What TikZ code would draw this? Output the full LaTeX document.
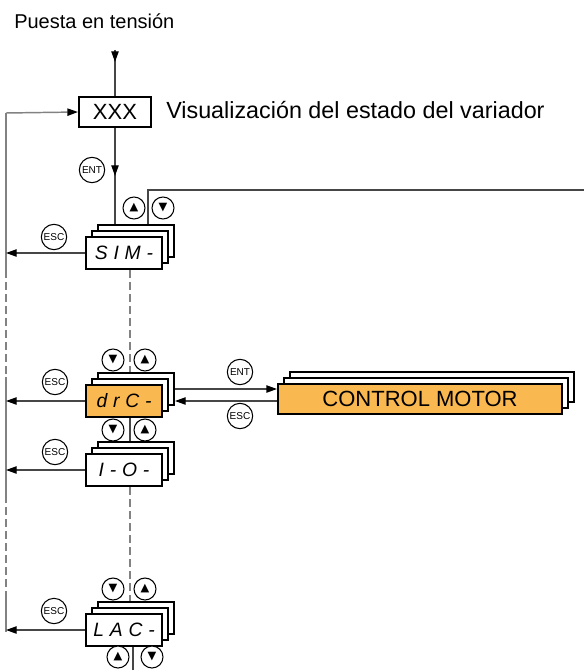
\documentclass[tikz,border=0pt]{standalone}
\usepackage{fontspec}
\setmainfont{Liberation Sans}
\newfontfamily\segfont[LetterSpace=30]{Liberation Sans}
\newfontfamily\symfont{DejaVu Sans}
\usetikzlibrary{arrows.meta}
\usetikzlibrary{decorations.markings}
\definecolor{panelorange}{RGB}{250,184,80}
\definecolor{wiregray}{RGB}{70,70,70}
\definecolor{loopgray}{RGB}{130,130,130}

\tikzset{
  bigtext/.style={inner sep=0.75pt, font=\fontsize{16.5}{19}\selectfont},
  card/.style={draw, fill=white, line width=1.5pt, minimum width=57pt, minimum height=24pt, inner sep=0pt},
  cmcard/.style={card, minimum width=213pt, minimum height=22.5pt},
  seg/.style={font=\segfont\itshape\fontsize{14.5}{14.5}\selectfont},
  keybtn/.style={circle, draw, line width=0.8pt, fill=white, minimum size=19pt, inner sep=0pt, font=\fontsize{7.5}{7.5}\selectfont},
  arrowbtn/.style={circle, draw, line width=0.8pt, fill=white, minimum size=16.5pt, inner sep=0pt, font=\symfont\fontsize{8.5}{8.5}\selectfont},
  wire/.style={draw=wiregray, line width=1pt},
  loopwire/.style={draw=loopgray, line width=1.1pt},
  tip/.style={-{Triangle[length=8pt,width=5.5pt,black]}},
  midarrow/.style={postaction={decorate}, decoration={markings, mark=at position #1 with {\arrow{Triangle[length=8pt,width=5.5pt,black]}}}},
  dashwire/.style={draw=loopgray, line width=1pt, dash pattern={on 6pt off 3pt}}
}

\begin{document}
\begin{tikzpicture}[x=0.75pt,y=0.75pt,yscale=-1,xscale=1]
\useasboundingbox (0,0) rectangle (584,670);

% Text Node
\node[bigtext, anchor=base west, font=\fontsize{15}{18}\selectfont] (title) at (13,29) {Puesta en tensión};
% Shape: Rectangle
\node[card, bigtext, line width=1.5pt, minimum width=54pt, minimum height=22.5pt] (xxx) at (115,112) {XXX};
% Text Node
\node[bigtext, anchor=base west, font=\fontsize{17.5}{20}\selectfont] (status) at (165,119) {Visualización del estado del variador};

%Stack: SIM
\node[card] (sim3) at (136,241) {};
\node[card] (sim2) at (130,247) {};
\node[card, seg] (sim) at (124,253) {SIM-};
%Stack: drC
\node[card] (drc3) at (136,389) {};
\node[card] (drc2) at (130,395) {};
\node[card, seg, fill=panelorange] (drc) at (124,401) {drC-};
%Stack: I-O
\node[card] (io3) at (136,458) {};
\node[card] (io2) at (130,464) {};
\node[card, seg] (io) at (124,470) {I-O-};
%Stack: LAC
\node[card] (lac3) at (136,618) {};
\node[card] (lac2) at (130,624) {};
\node[card, seg] (lac) at (124,630) {LAC-};
%Stack: CONTROL MOTOR
\node[cmcard] (cm3) at (432,387) {};
\node[cmcard] (cm2) at (426,393) {};
\node[cmcard, bigtext, fill=panelorange, line width=1.5pt, inner sep=0pt] (cm) at (420,399) {CONTROL MOTOR};

% Buttons
\node[keybtn] (entsim) at (92,170) {ENT};
\node[keybtn] (escsim) at (54,237) {ESC};
\node[arrowbtn] (upsim) at (134,208) {▲};
\node[arrowbtn] (dnsim) at (163,208) {▼};
\node[keybtn] (escdrc) at (55,382) {ESC};
\node[arrowbtn] (dndrc) at (113,360) {▼};
\node[arrowbtn] (updrc) at (145,360) {▲};
\node[keybtn] (escio) at (55,452) {ESC};
\node[arrowbtn] (dnio) at (113,430) {▼};
\node[arrowbtn] (upio) at (145,430) {▲};
\node[keybtn] (esclac) at (54,611) {ESC};
\node[arrowbtn] (dnlac) at (113,589) {▼};
\node[arrowbtn] (uplac) at (145,589) {▲};
\node[arrowbtn] (uplac2) at (118,657) {▲};
\node[arrowbtn] (dnlac2) at (152,657) {▼};
\node[keybtn] (entcm) at (240,372) {ENT};
\node[keybtn] (esccm) at (240,416) {ESC};

% Power-on arrow
\coordinate (pwr) at (115,50);
\draw[wire] (pwr) -- (xxx.north);
\draw[wire, tip] (pwr) -- ++(0,12);
\draw[wire, midarrow=0.5] (xxx.south) -- (xxx.south |- sim3.north);

% Return loop
\coordinate (lt) at (6,113);
\coordinate (lb) at (6,632);
\draw[loopwire, tip] (lt) -- (xxx.west);
\draw[loopwire] (lt) -- (6,270);
\draw[dashwire] (6,270) -- (6,377);
\draw[loopwire] (6,377) -- (6,495);
\draw[dashwire] (6,495) -- (6,593);
\draw[loopwire] (6,593) -- (lb);

% ESC arrows
\draw[wire, tip] (sim.west) -- (sim.west -| lt);
\draw[wire, tip] (drc.west) -- (drc.west -| lt);
\draw[wire, tip] (io.west) -- (io.west -| lt);
\draw[wire, tip] (lac.west) -- (lac.west -| lt);

% Top-right exit
\coordinate (tr) at (584,190);
\draw[wire] ([xshift=9pt]sim3.north) |- (tr);

% Menu chain
\draw[dashwire] (sim.south -| sim2) -- (drc3.north -| sim2);
\draw[wire] (drc.south -| drc2) -- (io3.north -| drc2);
\draw[dashwire] (io.south -| io2) -- (lac3.north -| io2);
\coordinate (bot) at (133,670);
\draw[wire] (lac.south -| bot) -- (bot);

% ENT / ESC to CONTROL MOTOR
\draw[wire, tip] (drc3.east) -- (drc3.east -| cm.west);
\draw[wire, tip] (cm.west |- drc) -- (drc3.east |- drc);

\end{tikzpicture}
\end{document}
